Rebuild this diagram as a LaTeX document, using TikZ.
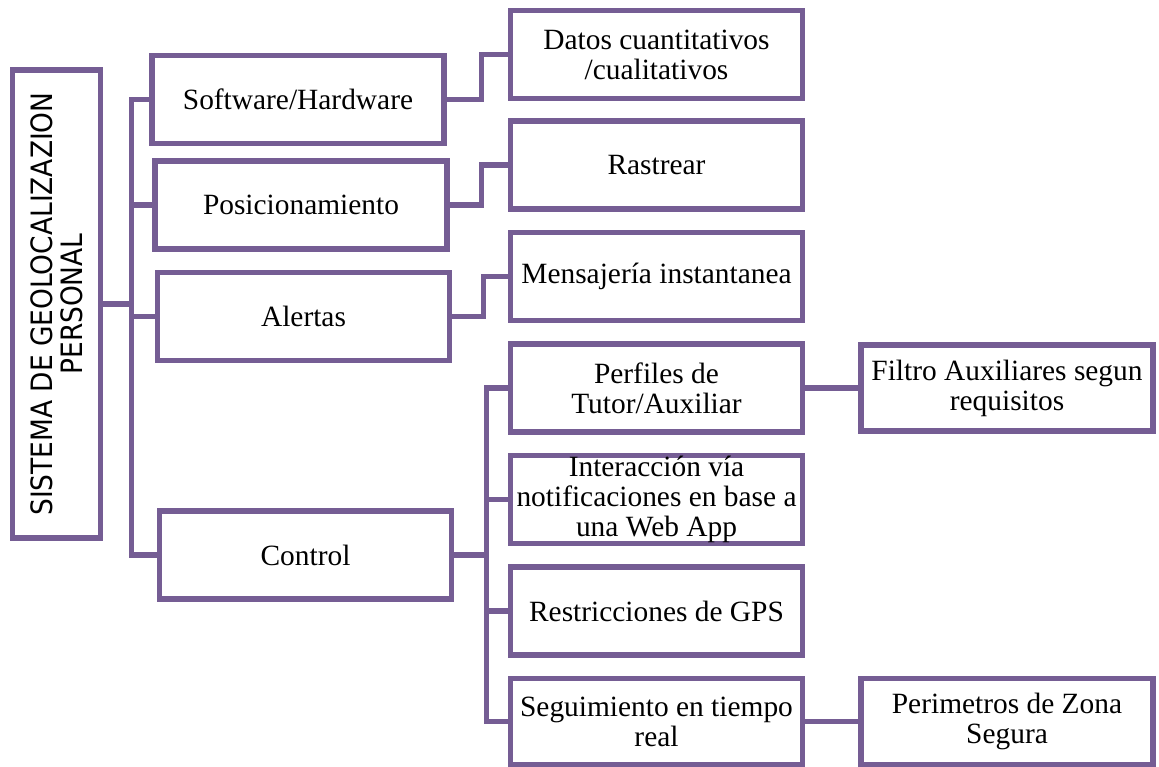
\documentclass[tikz,border=0pt]{standalone}
\usepackage{fontspec}
\setmainfont{Liberation Serif}
\newfontfamily\rootfont{DejaVu Sans Condensed}
\definecolor{mapurple}{RGB}{117,93,148}
\tikzset{
  box/.style={draw=mapurple, line width=2.7pt, fill=white, align=center, inner sep=0pt,
    minimum width=146pt, minimum height=44pt, font=\fontsize{14.7}{15}\selectfont},
  rootbox/.style={box, rotate=90, minimum width=234pt, minimum height=44pt,
    font=\rootfont\fontsize{14.7}{15.2}\selectfont},
  link/.style={draw=mapurple, line width=2.7pt},
}
\begin{document}
\begin{tikzpicture}[x=0.5pt, y=-0.5pt]
    \useasboundingbox (0,0) rectangle (1159,766);

    % Root of the map
    \node[rootbox] (root) at (56.5,304) {SISTEMA DE GEOLOCALIZAZION\\PERSONAL};

    % First level
    \node[box] (sw) at (298,99.5) {Software/Hardware};
    \node[box] (pos) at (301,205) {Posicionamiento};
    \node[box] (alert) at (303.5,316.5) {Alertas};
    \node[box] (ctrl) at (305.5,555) {Control};

    % Second level
    \node[box] (datos) at (656.5,54.5) {Datos cuantitativos\\/cualitativos};
    \node[box] (track) at (656.5,165) {Rastrear};
    \node[box] (msg) at (656.5,276.5) {Mensajería instantanea};
    \node[box] (perf) at (656.5,388) {Perfiles de\\Tutor/Auxiliar};
    \node[box] (inter) at (656.5,499.5) {Interacción vía\\notificaciones en base a\\una Web App};
    \node[box] (restr) at (656.5,611) {Restricciones de GPS};
    \node[box, minimum height=43pt] (seg) at (656.5,721.5) {Seguimiento en tiempo\\real};

    % Third level
    \node[box, minimum height=43pt] (filtro) at (1007,388) {Filtro Auxiliares segun\\requisitos};
    \node[box, minimum height=43pt] (zona) at (1007,721.5) {Perimetros de Zona\\Segura};

    % Connectors from the root
    \draw[link] (root.south) -- ++(28.5,0) |- (sw.west);
    \draw[link] (root.south) -- ++(28.5,0) |- (pos.west);
    \draw[link] (root.south) -- ++(28.5,0) |- (alert.west);
    \draw[link] (root.south) -- ++(28.5,0) |- (ctrl.west);

    % Connectors to the second level
    \draw[link] (sw.east) -- ++(34.5,0) |- (datos.west);
    \draw[link] (pos.east) -- ++(32,0) |- (track.west);
    \draw[link] (alert.east) -- ++(31,0) |- (msg.west);
    \draw[link] (ctrl.east) -- ++(32,0) |- (perf.west);
    \draw[link] (ctrl.east) -- ++(32,0) |- (inter.west);
    \draw[link] (ctrl.east) -- ++(32,0) |- (restr.west);
    \draw[link] (ctrl.east) -- ++(32,0) |- (seg.west);

    % Connectors to the third level
    \draw[link] (perf.east) -- (filtro.west);
    \draw[link] (seg.east) -- (zona.west);
\end{tikzpicture}
\end{document}
